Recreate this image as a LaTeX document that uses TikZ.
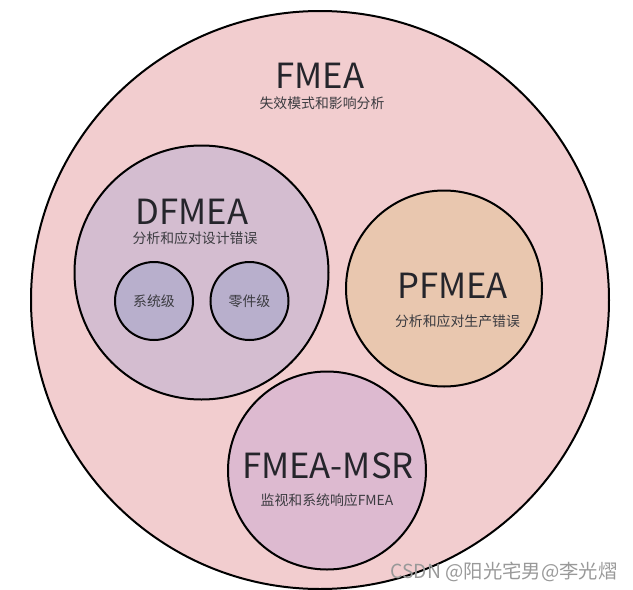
\documentclass[tikz,border=0pt]{standalone}
\usepackage{fontspec}
\setmainfont{Noto Sans CJK SC}
\usepackage{tikz}
\usetikzlibrary{positioning}
\definecolor{fmeaPink}{HTML}{F2CDCF}
\definecolor{dfmeaLilac}{HTML}{D4BDD0}
\definecolor{levelBlue}{HTML}{B8AFCC}
\definecolor{pfmeaPeach}{HTML}{E9C7AF}
\definecolor{msrMauve}{HTML}{DDBAD0}
\definecolor{inkDark}{HTML}{25252B}
\tikzset{
    ring/.style={circle, draw=black, line width=1.5pt, inner sep=0pt,
        minimum size=#1*1.5pt},
    bigtitle/.style={anchor=base, text=inkDark, font=\fontsize{26}{26}\selectfont},
    subtitle/.style={anchor=base, text=inkDark!90, font=\fontsize{10.4}{10.4}\selectfont},
}

\begin{document}
\begin{tikzpicture}[x=0.75pt, y=-0.75pt]
        % page frame, pixel coordinates (y downwards)
        \useasboundingbox (0,0) rectangle (633,590);

        % Circles (centres and radii)
        \node[ring=289, fill=fmeaPink]   (fmea)  at (320,300) {};
        \node[ring=127, fill=dfmeaLilac] (dfmea) at (201.5,272.5) {};
        \node[ring=39,  fill=levelBlue]  (sys)   at (154,301) {};
        \node[ring=39,  fill=levelBlue]  (part)  at (249.5,301) {};
        \node[ring=98,  fill=pfmeaPeach] (pfmea) at (444,288.5) {};
        \node[ring=99,  fill=msrMauve]   (msr)   at (327,470.5) {};

        % Titles
        \node[bigtitle] (fmeaT)  at (320,88)  {FMEA};
        \node[subtitle] (fmeaS)  at (322,108) {失效模式和影响分析};
        \node[bigtitle] (dfmeaT) at (192,224) {DFMEA};
        \node[subtitle] (dfmeaS) at (195,243) {分析和应对设计错误};
        \node[bigtitle] (pfmeaT) at (452.5,298) {PFMEA};
        \node[subtitle] (pfmeaS) at (457.5,326) {分析和应对生产错误};
        \node[bigtitle] (msrT)   at (328,478) {FMEA-MSR};
        \node[subtitle] (msrS)   at (327,505) {监视和系统响应FMEA};

        % Levels inside DFMEA
        \node[subtitle] (sysT)  at (154,306)   {系统级};
        \node[subtitle] (partT) at (249.5,306) {零件级};

        \node[anchor=base, text=black!40, font=\fontsize{14.5}{14.5}\selectfont]
            (mark) at (504,578) {CSDN @阳光宅男@李光熠};
    \end{tikzpicture}
\end{document}
